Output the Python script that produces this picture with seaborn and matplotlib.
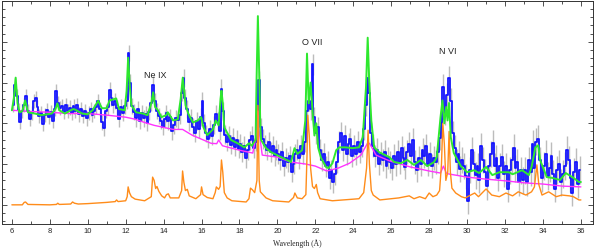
import numpy as np
import pandas as pd
import matplotlib
matplotlib.use("Agg")
import matplotlib.pyplot as plt
import seaborn as sns
from matplotlib.ticker import MultipleLocator

# observed spectrum, 0.1 A bins, one row per Angstrom (6..35)
flux_rows = [
    [2.44, 2.93, 2.68, 2.32, 2.02, 2.30, 2.45, 2.68, 2.30, 2.10],
    [2.25, 2.55, 2.62, 2.40, 2.18, 2.25, 1.98, 2.20, 2.32, 2.15],
    [2.28, 2.05, 2.35, 2.80, 2.50, 2.38, 2.42, 2.28, 2.45, 2.30],
    [2.38, 2.25, 2.42, 2.30, 2.45, 2.22, 2.35, 2.18, 2.30, 2.12],
    [2.25, 2.35, 2.20, 2.30, 2.40, 2.55, 2.35, 2.02, 1.88, 2.30],
    [2.40, 2.82, 2.62, 2.45, 2.55, 2.38, 2.10, 2.40, 2.25, 2.42],
    [2.55, 3.72, 3.00, 2.42, 2.28, 2.12, 2.35, 2.05, 2.25, 2.12],
    [2.22, 2.00, 2.28, 2.50, 2.95, 2.55, 2.30, 2.18, 2.05, 1.92],
    [2.10, 2.25, 2.05, 2.15, 1.80, 1.95, 2.12, 2.08, 2.20, 2.75],
    [3.10, 2.62, 2.35, 2.02, 2.12, 1.92, 1.75, 2.05, 1.85, 2.15],
    [2.55, 2.00, 1.75, 1.62, 1.85, 1.70, 1.95, 2.22, 2.05, 1.82],
    [2.85, 2.30, 1.72, 1.55, 1.70, 1.48, 1.65, 1.42, 1.60, 1.38],
    [1.50, 1.30, 1.45, 1.15, 1.35, 1.58, 1.70, 1.40, 1.55, 2.20],
    [3.05, 1.90, 1.62, 1.48, 1.35, 1.55, 1.30, 1.45, 1.20, 1.35],
    [1.25, 1.10, 1.30, 0.95, 1.15, 1.05, 1.20, 0.80, 1.00, 1.25],
    [1.35, 1.15, 1.45, 1.25, 1.55, 2.30, 2.55, 2.35, 3.45, 2.15],
    [1.75, 1.90, 1.35, 1.10, 1.25, 0.95, 1.05, 0.65, 0.85, 0.55],
    [0.75, 1.05, 1.55, 1.75, 1.35, 1.70, 1.25, 1.50, 1.62, 1.20],
    [1.45, 1.25, 1.55, 1.30, 1.45, 1.85, 2.45, 3.12, 2.75, 1.75],
    [1.45, 1.20, 1.35, 1.00, 1.25, 1.10, 1.30, 0.95, 1.15, 1.05],
    [0.90, 1.20, 1.00, 1.30, 1.05, 1.40, 1.15, 0.92, 1.30, 1.50],
    [1.20, 1.60, 1.05, 0.85, 1.15, 1.00, 1.35, 1.20, 1.45, 1.00],
    [1.25, 0.95, 1.15, 1.05, 1.30, 1.65, 2.00, 2.90, 2.25, 2.70],
    [3.10, 2.55, 1.75, 1.40, 1.05, 1.25, 0.88, 1.10, 0.95, 0.70],
    [0.10, 0.85, 1.35, 1.00, 0.72, 0.95, 0.60, 1.45, 1.10, 0.80],
    [0.45, 0.95, 1.25, 1.52, 0.95, 1.15, 0.65, 0.95, 1.18, 0.75],
    [0.95, 0.40, 0.85, 1.10, 1.40, 0.90, 1.05, 0.55, 0.85, 0.60],
    [0.85, 0.55, 1.10, 0.80, 1.50, 0.90, 1.55, 1.62, 1.10, 0.65],
    [0.95, 1.25, 0.70, 0.90, 1.20, 0.75, 0.40, 0.85, 1.00, 0.55],
    [0.75, 0.95, 1.35, 1.10, 0.65, 0.30, 0.80, 1.05, 0.50, 0.85],
]
# 1-sigma error, one value per Angstrom
err_per_A = [0.17, 0.17, 0.17, 0.18, 0.18, 0.19, 0.20, 0.20, 0.21, 0.22,
             0.22, 0.23, 0.24, 0.24, 0.25, 0.26, 0.26, 0.27, 0.27, 0.28,
             0.29, 0.29, 0.30, 0.31, 0.32, 0.32, 0.33, 0.33, 0.34, 0.34]

# total model
model_wave = [6.0, 6.1, 6.2, 6.3, 6.4, 6.55, 6.7, 6.85, 7.2, 7.55, 8.1, 8.3, 8.4, 8.5,
              8.8, 9.1, 9.25, 9.4, 9.7, 10.0, 10.25, 10.55, 10.75, 11.0, 11.15, 11.5,
              11.65, 11.95, 12.05, 12.13, 12.22, 12.3, 12.55, 12.9, 13.15, 13.35, 13.45,
              13.55, 13.7, 13.88, 14.14, 14.22, 14.5, 14.75, 14.9, 15.01, 15.1, 15.16,
              15.3, 15.54, 15.8, 15.98, 16.1, 16.3, 16.6, 16.75, 16.9, 17.0, 17.05, 17.12,
              17.2, 17.56, 17.9, 18.26, 18.5, 18.65, 18.85, 18.9, 18.97, 19.05, 19.1,
              19.14, 19.4, 19.67, 20.2, 20.72, 20.9, 21.05, 21.3, 21.47, 21.56, 21.65,
              21.75, 21.85, 21.95, 22.05, 22.15, 22.3, 22.56, 22.7, 22.9, 23.1, 23.26,
              23.6, 23.95, 24.3, 24.5, 24.67, 24.76, 24.84, 24.95, 25.1, 25.37, 25.9,
              26.16, 26.5, 26.85, 27.2, 27.56, 27.9, 28.26, 28.4, 28.6, 28.7, 28.8, 28.9,
              28.97, 29.05, 29.14, 29.3, 29.67, 30.0, 30.37, 30.63, 31.0, 31.33, 31.7,
              32.2, 32.4, 32.9, 33.26, 33.4, 33.6, 33.75, 33.85, 34.2, 34.5, 34.9, 35.2,
              35.55, 35.9, 36.0]
model_flux = [2.32, 2.60, 3.12, 2.49, 2.27, 2.30, 2.56, 2.27, 2.24, 2.20, 2.24, 2.35, 2.49, 2.32,
              2.24, 2.32, 2.35, 2.32, 2.24, 2.22, 2.32, 2.55, 2.37, 2.37, 2.56, 2.61,
              2.35, 2.32, 2.80, 3.61, 2.88, 2.44, 2.27, 2.24, 2.20, 2.49, 2.76,
              2.40, 2.32, 2.15, 2.20, 2.27, 2.07, 2.10, 2.60, 3.12, 2.70, 2.44,
              2.24, 2.02, 2.07, 2.15, 1.90, 1.71, 1.85, 2.07, 1.95, 2.60, 2.80, 2.49,
              1.90, 1.59, 1.51, 1.41, 1.51, 1.45, 1.60, 3.05, 4.63, 3.05, 1.90,
              1.59, 1.39, 1.29, 1.17, 1.05, 1.39, 1.25, 1.34, 2.07, 3.71, 2.49,
              3.00, 2.30, 1.70, 2.00, 1.40, 1.15, 0.93, 0.90, 1.02, 1.34, 1.41,
              1.41, 1.39, 1.41, 1.66, 2.88, 4.10, 3.05, 2.07, 1.41, 1.29, 1.17,
              1.05, 1.02, 1.10, 0.98, 1.10, 0.95, 1.05, 1.17, 2.15, 2.56, 2.00, 2.40,
              2.07, 2.50, 1.66, 1.27, 0.95, 0.80, 0.85, 0.78, 0.93, 0.73, 0.80,
              0.80, 0.75, 0.85, 0.73, 0.93, 1.41, 1.46, 1.10, 0.68, 0.66, 0.61, 0.78,
              0.68, 0.56, 0.56]

# continuum component
cont_wave = [6.0, 7.0, 8.0, 9.0, 10.0, 11.0, 12.0, 12.5, 13.0, 13.5, 14.0, 14.5, 15.0,
             15.5, 16.0, 16.5, 16.8, 16.9, 17.1, 17.5, 18.0, 18.7, 18.9, 18.97, 19.05,
             19.2, 20.0, 20.7, 21.5, 22.0, 22.6, 23.2, 23.8, 24.4, 24.75, 24.85, 25.2,
             25.9, 27.0, 28.0, 28.6, 28.75, 28.9, 29.0, 30.0, 31.0, 32.0, 33.0, 34.0,
             35.0, 36.0]
cont_flux = [2.32, 2.29, 2.27, 2.24, 2.24, 2.20, 2.15, 2.10, 2.02, 1.95, 1.90, 1.85, 1.85,
             1.71, 1.61, 1.51, 1.50, 1.59, 1.45, 1.40, 1.34, 1.27, 1.75, 2.30, 1.75,
             1.22, 1.17, 1.05, 1.00, 0.95, 0.83, 0.90, 1.02, 1.22, 1.51, 1.51, 1.22,
             1.08, 0.93, 0.83, 0.78, 0.95, 0.78, 0.76, 0.68, 0.63, 0.59, 0.54, 0.51,
             0.46, 0.44]

# line emission component
line_wave = [6.0, 6.55, 6.65, 6.72, 6.85, 8.0, 8.35, 8.42, 8.5, 9.1, 9.2, 9.3, 9.5, 10.0,
             11.0, 11.45, 11.52, 11.6, 12.0, 12.08, 12.13, 12.2, 12.3, 12.5, 13.0, 13.35,
             13.42, 13.5, 13.58, 13.65, 13.75, 13.9, 14.05, 14.15, 14.25, 14.35, 14.8,
             14.95, 15.0, 15.07, 15.15, 15.25, 15.35, 15.7, 15.95, 16.0, 16.08, 16.3,
             16.6, 16.72, 16.78, 16.9, 16.98, 17.05, 17.12, 17.2, 17.35, 17.6, 18.35,
             18.5, 18.58, 18.68, 18.8, 18.92, 18.97, 19.04, 19.1, 19.4, 19.75, 20.6,
             20.85, 20.92, 21.05, 21.3, 21.5, 21.56, 21.6, 21.68, 21.75, 21.85, 21.95,
             22.05, 22.12, 22.25, 22.9, 24.3, 24.55, 24.7, 24.78, 24.85, 24.95, 25.05,
             25.4, 26.4, 26.95, 27.2, 27.5, 27.8, 28.0, 28.2, 28.4, 28.55, 28.65, 28.72,
             28.8, 28.88, 28.98, 29.05, 29.12, 29.2, 29.4, 29.7, 29.9, 30.4, 30.6, 31.0,
             31.3, 31.7, 32.05, 32.4, 32.7, 33.1, 33.4, 33.55, 33.68, 33.78, 33.95, 34.3,
             34.7, 35.0, 35.4, 35.6, 35.9, 36.0]
line_flux = [0.00, 0.00, 0.06, 0.07, 0.01, 0.00, 0.01, 0.04, 0.01, 0.02, 0.07, 0.04, 0.02, 0.03,
             0.06, 0.08, 0.12, 0.08, 0.10, 0.20, 0.44, 0.30, 0.20, 0.14, 0.10, 0.20,
             0.68, 0.60, 0.40, 0.45, 0.33, 0.22, 0.17, 0.25, 0.27, 0.17, 0.17,
             0.35, 0.83, 0.55, 0.35, 0.38, 0.22, 0.15, 0.25, 0.44, 0.25, 0.18,
             0.15, 0.30, 0.44, 0.38, 0.45, 1.10, 0.80, 0.30, 0.17, 0.10, 0.07,
             0.15, 0.41, 0.37, 0.30, 0.60, 2.44, 0.60, 0.32, 0.17, 0.10, 0.07,
             0.18, 0.29, 0.17, 0.15, 0.25, 1.20, 2.20, 1.70, 0.90, 0.45, 0.40,
             0.50, 0.30, 0.15, 0.10, 0.15, 0.30, 0.90, 1.83, 1.00, 0.35, 0.24,
             0.12, 0.17, 0.22, 0.15, 0.20, 0.15, 0.29, 0.20, 0.24, 0.35, 1.00, 2.00,
             1.50, 0.60, 0.80, 1.80, 0.80, 0.41, 0.29, 0.20, 0.17, 0.29, 0.20, 0.39,
             0.24, 0.20, 0.29, 0.22, 0.32, 0.24, 0.32, 0.44, 0.98, 0.50, 0.24, 0.32,
             0.20, 0.24, 0.22, 0.20, 0.12, 0.12]

ion_labels = ["Ne IX", "O VII", "N VI"]
ion_x = [13.54, 21.81, 28.96]
ion_y = [3.17, 3.97, 3.76]

flux = np.concatenate(flux_rows)
wave = np.round(6.05 + 0.1 * np.arange(len(flux)), 2)
err = np.repeat(err_per_A, 10)
df_obs = pd.DataFrame({"wave": wave, "flux": flux, "err": err})
df_model = pd.DataFrame({"wave": model_wave, "flux": model_flux})
df_cont = pd.DataFrame({"wave": cont_wave, "flux": cont_flux})
df_line = pd.DataFrame({"wave": line_wave, "flux": line_flux})

sns.set_style("ticks")
plt.rcParams["font.family"] = ["Liberation Sans", "DejaVu Sans"]

fig = plt.figure(figsize=(5.98, 2.5), dpi=100)
ax = fig.add_axes([0.004, 0.104, 0.988, 0.892])

ax.vlines(df_obs["wave"], df_obs["flux"] - df_obs["err"], df_obs["flux"] + df_obs["err"],
          color="#bcbcbc", lw=1.0, zorder=1)
sns.lineplot(ax=ax, data=df_obs, x="wave", y="flux", color="#1414ff", lw=1.3,
             drawstyle="steps-mid", zorder=2)
sns.lineplot(ax=ax, data=df_cont, x="wave", y="flux", color="#ff33ff", lw=1.0, zorder=3)
sns.lineplot(ax=ax, data=df_line, x="wave", y="flux", color="#ff8c1a", lw=1.0, zorder=4)
sns.lineplot(ax=ax, data=df_model, x="wave", y="flux", color="#2ee82e", lw=1.4, zorder=5)

for lab, xx, yy in zip(ion_labels, ion_x, ion_y):
    ax.text(xx, yy, lab, ha="center", va="center", fontsize=6.5, color="#222222")

ax.set_xlim(5.5, 36.65)
ax.set_ylim(-0.47, 5.0)
ax.xaxis.set_major_locator(MultipleLocator(2))
ax.xaxis.set_minor_locator(MultipleLocator(1))
ax.yaxis.set_major_locator(MultipleLocator(1))
ax.yaxis.set_minor_locator(MultipleLocator(0.2))
ax.tick_params(which="both", direction="in", top=True, right=True, labelleft=False,
               width=0.6, color="#333333", labelsize=5.5, pad=3)
ax.tick_params(which="major", length=3.5)
ax.tick_params(which="minor", length=2)
for s in ax.spines.values():
    s.set_linewidth(0.7)
    s.set_color("#333333")
ax.set_ylabel("")
ax.set_xlabel("Wavelength (Å)", family="Liberation Serif", fontsize=5.5, labelpad=3)

plt.savefig("out.png", dpi=100)
